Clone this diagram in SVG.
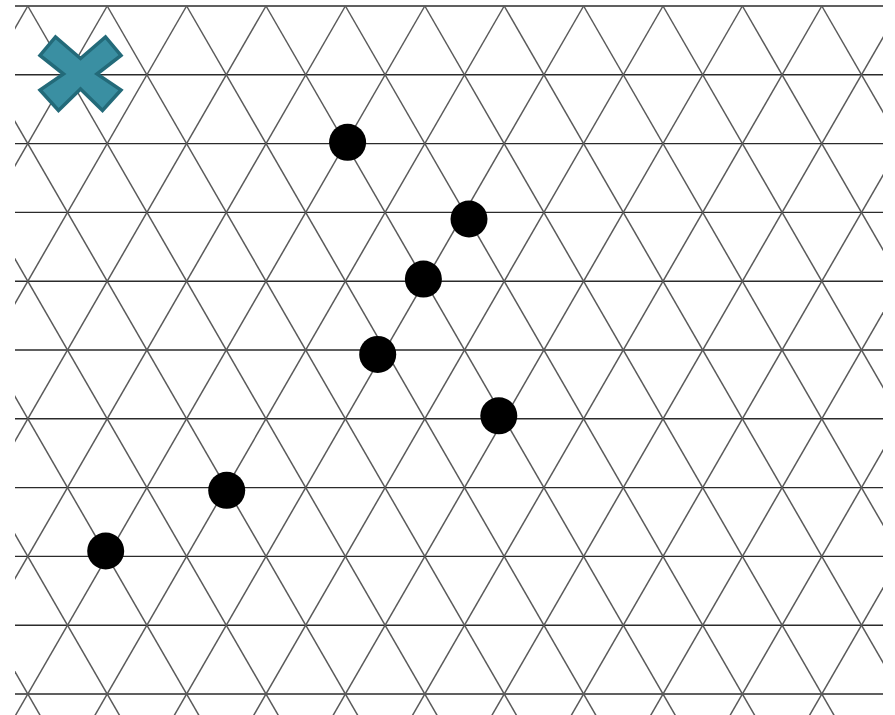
<svg xmlns="http://www.w3.org/2000/svg" xmlns:xlink="http://www.w3.org/1999/xlink" width="895" height="715" viewBox="0 0 895 715">
<style>
.h{stroke:#2b2b2b;stroke-width:1.4;fill:none}
.d{stroke:#5a5a5a;stroke-width:1.5;fill:none}
.dot{fill:#000}
.x{fill:#3a8fa2;stroke:#236a79;stroke-width:3.5;stroke-linejoin:miter}
</style>
<defs>
<clipPath id="c"><rect x="15" y="4" width="868" height="711"/></clipPath>
<line id="r" class="d" x1="0" y1="6" x2="412" y2="720"/>
<line id="l" class="d" x1="0" y1="6" x2="-412" y2="720"/>
</defs>
<rect width="895" height="715" fill="#fff"/>
<g id="grid" clip-path="url(#c)">
<g id="horizontal">
<line class="h" x1="15" y1="6" x2="883" y2="6"/>
<line class="h" x1="15" y1="74.8" x2="883" y2="74.8"/>
<line class="h" x1="15" y1="143.6" x2="883" y2="143.6"/>
<line class="h" x1="15" y1="212.4" x2="883" y2="212.4"/>
<line class="h" x1="15" y1="281.2" x2="883" y2="281.2"/>
<line class="h" x1="15" y1="350" x2="883" y2="350"/>
<line class="h" x1="15" y1="418.8" x2="883" y2="418.8"/>
<line class="h" x1="15" y1="487.6" x2="883" y2="487.6"/>
<line class="h" x1="15" y1="556.4" x2="883" y2="556.4"/>
<line class="h" x1="15" y1="625.2" x2="883" y2="625.2"/>
<line class="h" x1="15" y1="694" x2="883" y2="694"/>
</g>
<g id="diag-right">
<use xlink:href="#r" x="-369.2"/><use xlink:href="#r" x="-289.8"/><use xlink:href="#r" x="-210.4"/><use xlink:href="#r" x="-131"/>
<use xlink:href="#r" x="-51.6"/><use xlink:href="#r" x="27.8"/><use xlink:href="#r" x="107.2"/><use xlink:href="#r" x="186.6"/>
<use xlink:href="#r" x="266"/><use xlink:href="#r" x="345.4"/><use xlink:href="#r" x="424.8"/><use xlink:href="#r" x="504.2"/>
<use xlink:href="#r" x="583.6"/><use xlink:href="#r" x="663"/><use xlink:href="#r" x="742.4"/><use xlink:href="#r" x="821.8"/>
</g>
<g id="diag-left">
<use xlink:href="#l" x="27.8"/><use xlink:href="#l" x="107.2"/><use xlink:href="#l" x="186.6"/><use xlink:href="#l" x="266"/>
<use xlink:href="#l" x="345.4"/><use xlink:href="#l" x="424.8"/><use xlink:href="#l" x="504.2"/><use xlink:href="#l" x="583.6"/>
<use xlink:href="#l" x="663"/><use xlink:href="#l" x="742.4"/><use xlink:href="#l" x="821.8"/><use xlink:href="#l" x="901.2"/>
<use xlink:href="#l" x="980.6"/><use xlink:href="#l" x="1060"/><use xlink:href="#l" x="1139.4"/><use xlink:href="#l" x="1218.8"/>
</g>
</g>
<g id="marker-x">
<polygon class="x" points="80.5,58.5 105.5,37 121,55.5 97,74 121,90 102.5,110.5 80.5,89 58.5,110.5 40,90 63.5,74 40,55.5 55.5,37"/>
</g>
<g id="dots">
<circle id="dot1" class="dot" cx="347.6" cy="142.3" r="18.5"/>
<circle id="dot2" class="dot" cx="469" cy="219" r="18.5"/>
<circle id="dot3" class="dot" cx="423.4" cy="279.1" r="18.5"/>
<circle id="dot4" class="dot" cx="377.7" cy="354.4" r="18.5"/>
<circle id="dot5" class="dot" cx="498.8" cy="415.8" r="18.5"/>
<circle id="dot6" class="dot" cx="226.7" cy="490.3" r="18.5"/>
<circle id="dot7" class="dot" cx="105.7" cy="551" r="18.5"/>
</g>
</svg>
